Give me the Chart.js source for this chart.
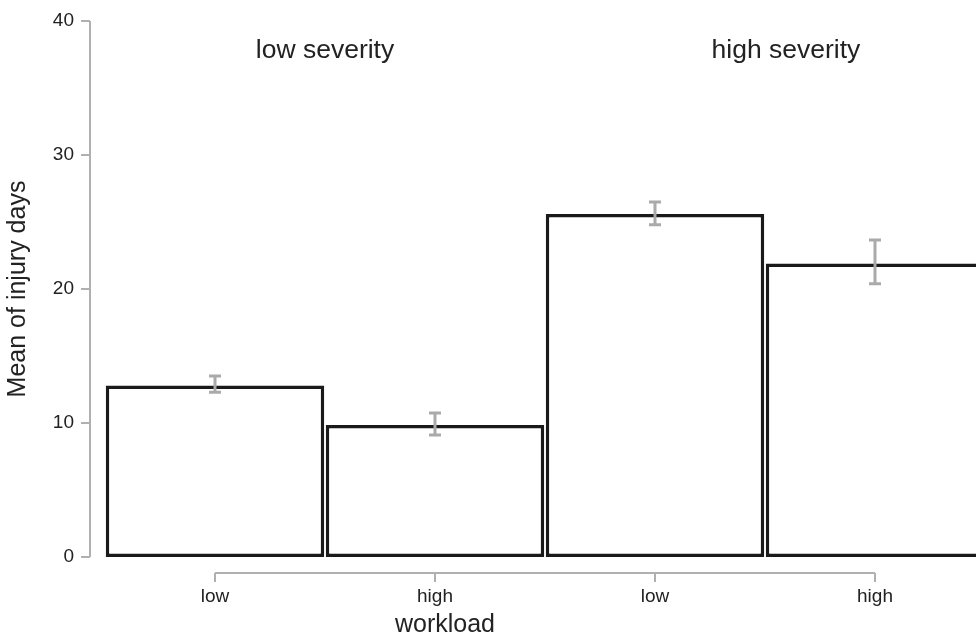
<!DOCTYPE html>
<html><head><meta charset="utf-8">
<script src="https://cdn.jsdelivr.net/npm/chart.js@4/dist/chart.umd.min.js"></script>
<style>html,body{margin:0;padding:0;overflow:hidden;background:#fff}#wrap{width:1000px;height:637px;position:relative}</style>
</head><body><div id="wrap"><canvas id="c" width="1000" height="637"></canvas></div>
<script>
const categories = ['low', 'high', 'low', 'high'];
const means = [12.8, 9.85, 25.6, 21.9];
const errLow = [12.3, 9.1, 24.8, 20.4];
const errHigh = [13.5, 10.75, 26.5, 23.65];
const yTicks = [0, 10, 20, 30, 40];
const groupLabels = ['low severity', 'high severity'];
const xTitle = 'workload';
const yTitle = 'Mean of injury days';

Chart.defaults.font.family = "'Liberation Sans', Arial, Helvetica, sans-serif";
const TEXT = '#222222';
const AXIS = '#b0b0b0';

const custom = {
  id: 'custom',
  afterDatasetsDraw(chart) {
    const { ctx, scales: { x, y } } = chart;
    ctx.save();
    // error bars
    ctx.strokeStyle = '#aaaaaa';
    ctx.lineWidth = 3;
    categories.forEach((c, i) => {
      const px = x.getPixelForValue(i);
      const y1 = y.getPixelForValue(errLow[i]);
      const y2 = y.getPixelForValue(errHigh[i]);
      ctx.beginPath();
      ctx.moveTo(px, y1); ctx.lineTo(px, y2);
      ctx.moveTo(px - 6, y1); ctx.lineTo(px + 6, y1);
      ctx.moveTo(px - 6, y2); ctx.lineTo(px + 6, y2);
      ctx.stroke();
    });
    // y spine (offset)
    ctx.strokeStyle = AXIS;
    ctx.lineWidth = 2;
    const sx = x.left - 15;
    ctx.beginPath();
    ctx.moveTo(sx, y.getPixelForValue(yTicks[0]));
    ctx.lineTo(sx, y.getPixelForValue(yTicks[yTicks.length - 1]));
    yTicks.forEach(v => {
      const py = y.getPixelForValue(v);
      ctx.moveTo(sx, py); ctx.lineTo(sx - 9, py);
    });
    ctx.stroke();
    // x spine (offset)
    const sy = y.bottom + 16;
    ctx.beginPath();
    ctx.moveTo(x.getPixelForValue(0), sy);
    ctx.lineTo(x.getPixelForValue(categories.length - 1), sy);
    categories.forEach((c, i) => {
      const px = x.getPixelForValue(i);
      ctx.moveTo(px, sy); ctx.lineTo(px, sy + 9);
    });
    ctx.stroke();
    // group labels
    ctx.fillStyle = TEXT;
    ctx.textAlign = 'center';
    ctx.textBaseline = 'middle';
    ctx.font = "26.5px 'Liberation Sans', Arial, sans-serif";
    const gpos = [0.5, 2.595];
    groupLabels.forEach((t, i) => ctx.fillText(t, x.getPixelForValue(gpos[i]), 51));
    // x title
    ctx.font = "25px 'Liberation Sans', Arial, sans-serif";
    ctx.fillText(xTitle, 445, 625);
    ctx.restore();
  }
};

new Chart(document.getElementById('c').getContext('2d'), {
  type: 'bar',
  data: {
    labels: categories,
    datasets: [{
      data: means,
      backgroundColor: '#ffffff',
      borderColor: '#1a1a1a',
      borderWidth: 3.5,
      borderSkipped: false,
      barPercentage: 0.993,
      categoryPercentage: 1
    }]
  },
  options: {
    responsive: false,
    animation: false,
    layout: { padding: { left: 0, right: 15, top: 21, bottom: 0 } },
    plugins: { legend: { display: false }, tooltip: { enabled: false } },
    scales: {
      x: {
        grid: { display: false },
        border: { display: false },
        ticks: { padding: 20, font: { size: 19 }, color: TEXT },
        afterFit(s) { s.height = 80; s.paddingLeft = 0; s.paddingRight = 0; }
      },
      y: {
        min: 0, max: 40,
        afterBuildTicks(s) { s.ticks = yTicks.map(v => ({ value: v })); },
        grid: { display: false },
        border: { display: false },
        ticks: { padding: 23, font: { size: 19 }, color: TEXT },
        title: { display: true, text: yTitle, font: { size: 25 }, color: TEXT, padding: { top: 3, bottom: 0 } },
        afterFit(s) { s.width = 105; s.paddingTop = 0; s.paddingBottom = 0; }
      }
    }
  },
  plugins: [custom]
});
</script>
</body></html>
